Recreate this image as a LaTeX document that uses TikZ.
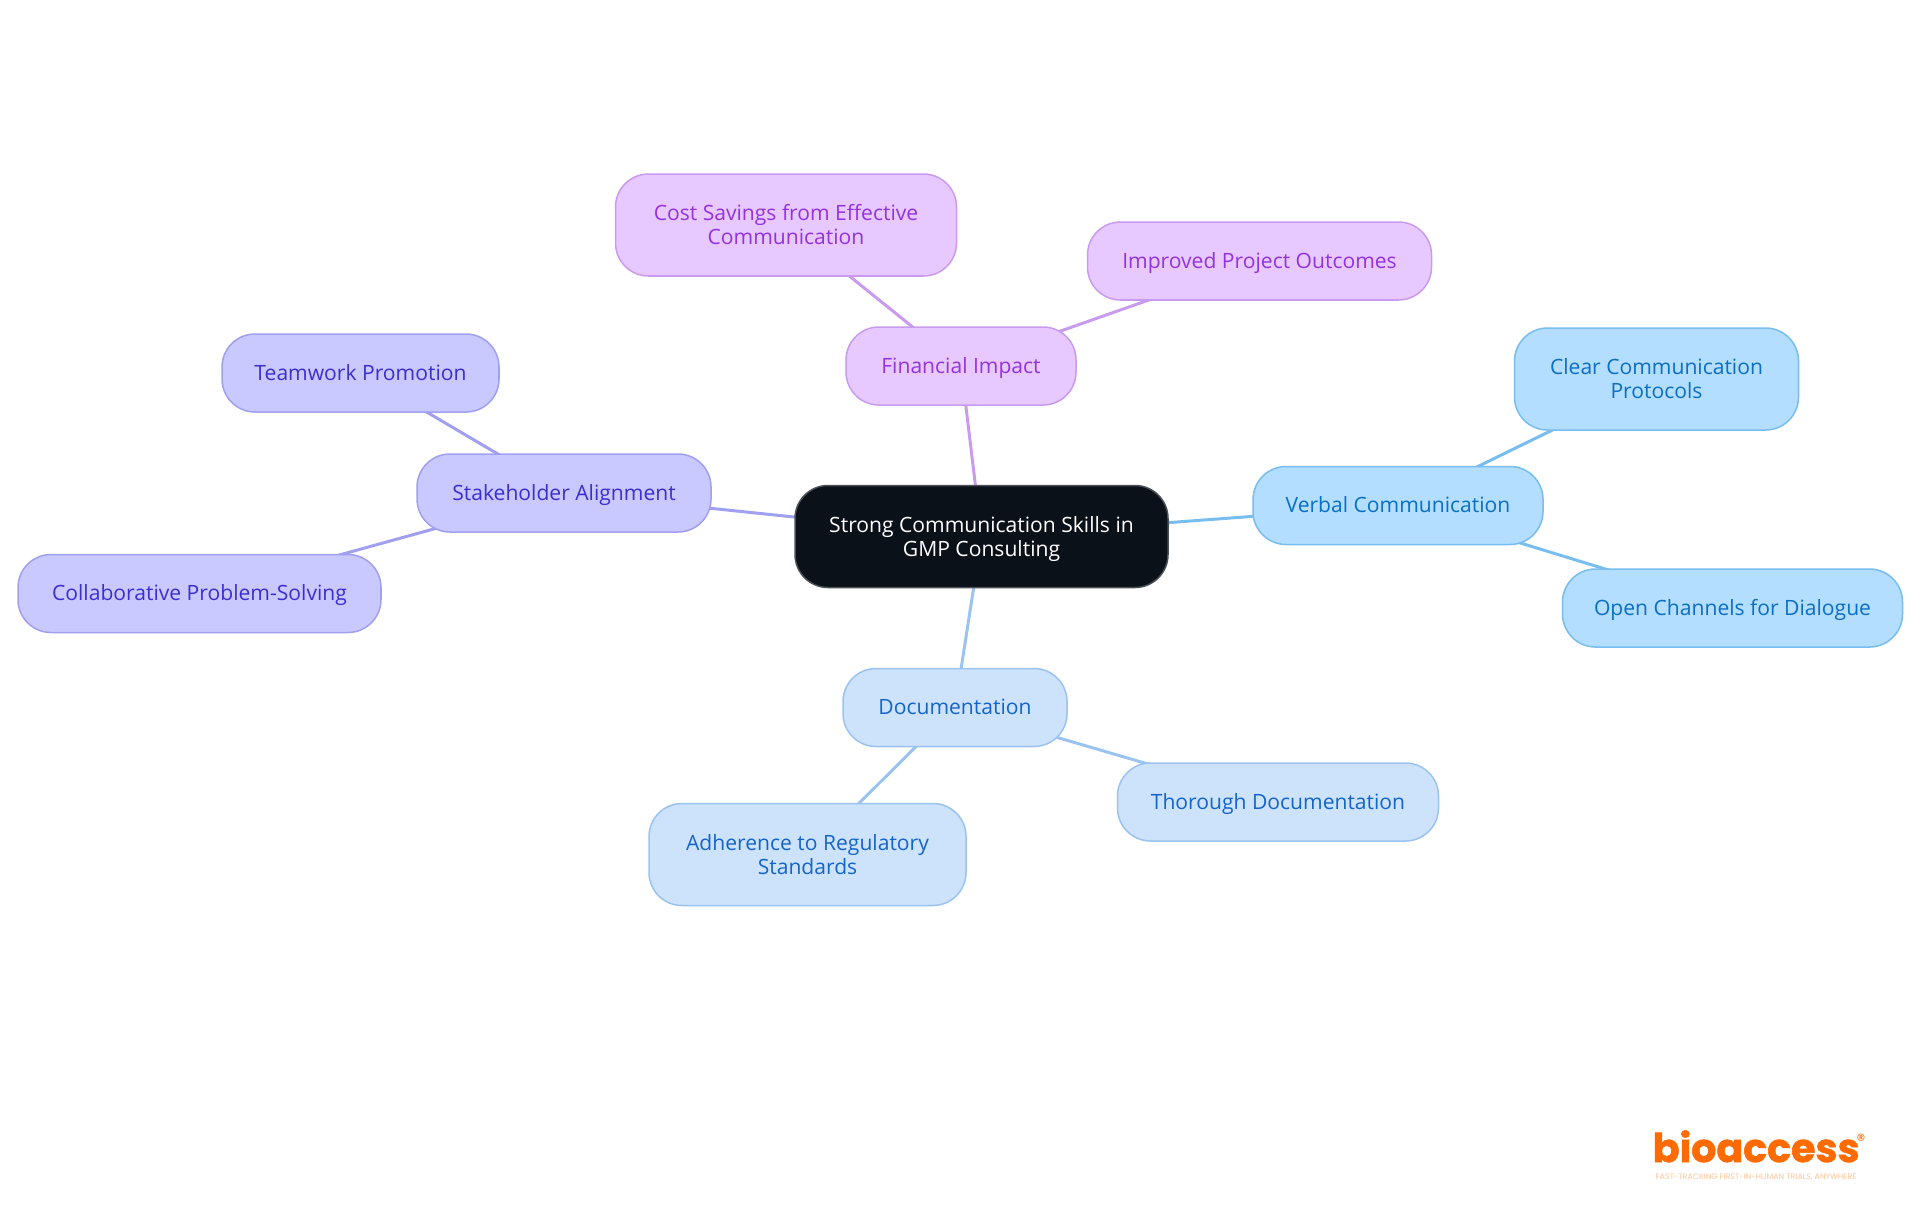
\documentclass[tikz,border=0pt]{standalone}
\usepackage{fontspec}
\usetikzlibrary{backgrounds}
\setmainfont{Open Sans}
\newfontfamily\logofont[BoldFeatures={FakeBold=1.4}]{Poppins}
\definecolor{rootfill}{HTML}{0B1119}
\definecolor{rootline}{HTML}{4A4F55}
\definecolor{finfill}{HTML}{E8C9FF}
\definecolor{finline}{HTML}{C99BF0}
\definecolor{fintext}{HTML}{9333DD}
\definecolor{stakefill}{HTML}{C9C9FF}
\definecolor{stakeline}{HTML}{A09FF0}
\definecolor{staketext}{HTML}{3B2FCF}
\definecolor{verbfill}{HTML}{B3DEFF}
\definecolor{verbline}{HTML}{78BDF0}
\definecolor{verbtext}{HTML}{0B6FC4}
\definecolor{docfill}{HTML}{CDE3FC}
\definecolor{docline}{HTML}{9AC3F0}
\definecolor{doctext}{HTML}{1565C8}
\definecolor{logoorange}{HTML}{FF6B00}
\definecolor{logopale}{HTML}{FFC49A}
\newcommand{\boxtop}{\rule{0pt}{6pt}}
\newcommand{\talltop}{\rule{0pt}{13.3pt}}
\newcommand{\boxbot}{\vrule width 0pt depth 2pt height 0pt\relax}

\begin{document}
\begin{tikzpicture}[scale=0.1]
\tikzstyle{every node}+=[inner sep=0pt]
\tikzstyle{box}=[draw,rounded corners=0.33cm,line width=0.43pt,align=center,minimum height=0.78cm,font=\fontsize{6}{6.8}\selectfont,execute at begin node=\boxtop,execute at end node=\boxbot]
\tikzstyle{tall}=[minimum height=1.02cm,execute at begin node=\talltop]
\tikzstyle{root}=[box,tall,fill=rootfill,draw=rootline,text=white]
\tikzstyle{fin}=[box,fill=finfill,draw=finline,text=fintext]
\tikzstyle{stake}=[box,fill=stakefill,draw=stakeline,text=staketext]
\tikzstyle{verb}=[box,fill=verbfill,draw=verbline,text=verbtext]
\tikzstyle{docu}=[box,fill=docfill,draw=docline,text=doctext]
\tikzstyle{edge}=[line width=0.85pt]
\useasboundingbox (0,0) rectangle (192,-121.5);
% boxes
\node [root,minimum width=3.73cm] (strong) at (98.15,-53.65) {Strong Communication Skills in\\GMP Consulting};
\node [fin,minimum width=2.30cm] (financial) at (96.1,-36.6) {Financial Impact};
\node [fin,tall,minimum width=3.41cm] (savings) at (78.6,-22.5) {Cost Savings from Effective\\Communication};
\node [fin,minimum width=3.44cm] (outcomes) at (125.95,-26.1) {Improved Project Outcomes};
\node [verb,minimum width=2.90cm] (verbal) at (139.8,-50.55) {Verbal Communication};
\node [verb,tall,minimum width=2.84cm] (protocols) at (165.65,-37.9) {Clear Communication\\Protocols};
\node [verb,minimum width=3.40cm] (channels) at (173.25,-60.8) {Open Channels for Dialogue};
\node [docu,minimum width=2.24cm] (documentation) at (95.5,-70.75) {Documentation};
\node [docu,minimum width=3.21cm] (thorough) at (127.8,-80.2) {Thorough Documentation};
\node [docu,tall,minimum width=3.17cm] (adherence) at (80.75,-85.45) {Adherence to Regulatory\\Standards};
\node [stake,minimum width=2.94cm] (stakeholder) at (56.4,-49.3) {Stakeholder Alignment};
\node [stake,minimum width=2.77cm] (teamwork) at (36.05,-37.3) {Teamwork Promotion};
\node [stake,minimum width=3.63cm] (collab) at (19.95,-59.35) {Collaborative Problem-Solving};
% connectors
\begin{scope}[on background layer]
\draw [edge,finline] (strong.center) -- (financial.center);
\draw [edge,finline] (financial.center) -- (savings.center);
\draw [edge,finline] (financial.center) -- (outcomes.center);
\draw [edge,verbline] (strong.center) -- (verbal.center);
\draw [edge,verbline] (verbal.center) -- (protocols.center);
\draw [edge,verbline] (verbal.center) -- (channels.center);
\draw [edge,docline] (strong.center) -- (documentation.center);
\draw [edge,docline] (documentation.center) -- (thorough.center);
\draw [edge,docline] (documentation.center) -- (adherence.center);
\draw [edge,stakeline] (strong.center) -- (stakeholder.center);
\draw [edge,stakeline] (stakeholder.center) -- (teamwork.center);
\draw [edge,stakeline] (stakeholder.center) -- (collab.center);
\end{scope}
% logo
\node [anchor=base west,text=logoorange,font=\logofont\bfseries\fontsize{11.25}{11.25}\selectfont] (logo) at (165.2,-116.2) {bioaccess};
\node [anchor=center,text=logoorange,font=\logofont\fontsize{5}{5}\selectfont] (mark) at (186.1,-114) {®};
\node [anchor=base west,text=logopale,font=\logofont\fontsize{2.26}{2.26}\selectfont] (tagline) at (165.5,-117.9) {FAST-TRACKING FIRST-IN-HUMAN TRIALS, ANYWHERE};
\end{tikzpicture}
\end{document}
